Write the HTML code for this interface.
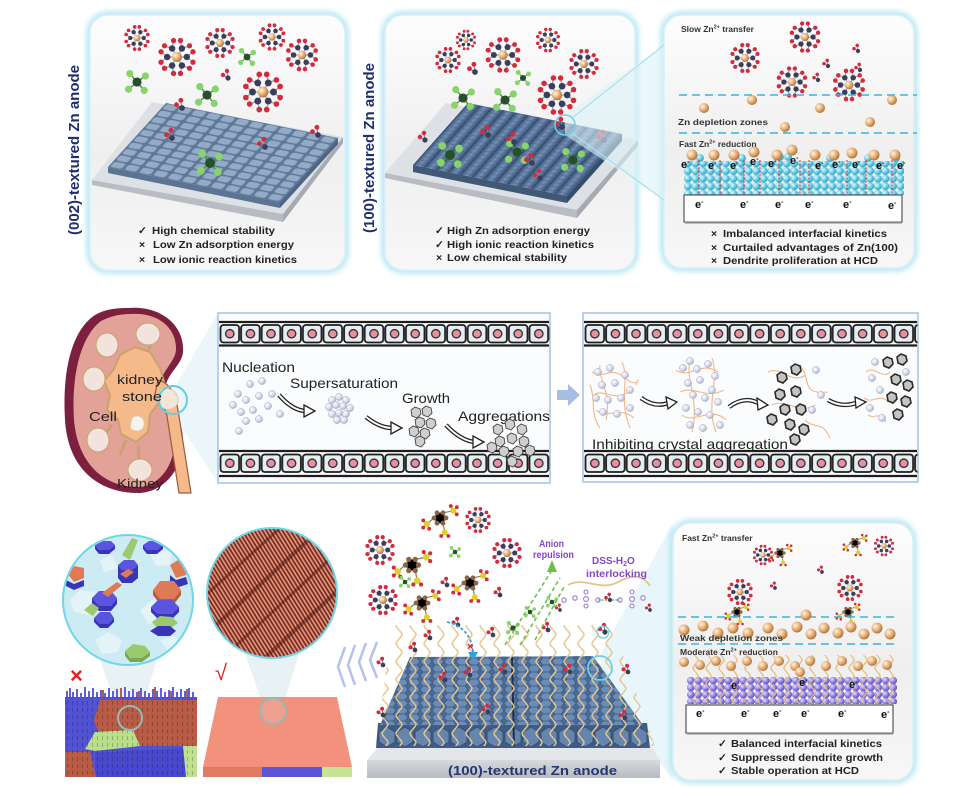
<!DOCTYPE html>
<html><head><meta charset="utf-8">
<style>
html,body{margin:0;padding:0;background:#fff;}
svg{display:block;}
text{font-family:"Liberation Sans",Arial,sans-serif;}
.b{font-weight:bold;}
</style></head>
<body>
<svg width="974" height="787" viewBox="0 0 974 787" xmlns="http://www.w3.org/2000/svg">
<defs>
 <radialGradient id="zn" cx="35%" cy="35%" r="65%"><stop offset="0" stop-color="#fff4e4"/><stop offset=".55" stop-color="#e9b37a"/><stop offset="1" stop-color="#b17940"/></radialGradient>
 <radialGradient id="cy" cx="35%" cy="35%" r="70%"><stop offset="0" stop-color="#e6fbff"/><stop offset=".5" stop-color="#6fd1ea"/><stop offset="1" stop-color="#2b9ec0"/></radialGradient>
 <radialGradient id="pu" cx="35%" cy="35%" r="70%"><stop offset="0" stop-color="#e2dcff"/><stop offset=".5" stop-color="#9a8ae6"/><stop offset="1" stop-color="#5b49b8"/></radialGradient>
 <radialGradient id="lav" cx="35%" cy="35%" r="70%"><stop offset="0" stop-color="#ffffff"/><stop offset=".6" stop-color="#d6d8ea"/><stop offset="1" stop-color="#a6a9c8"/></radialGradient>
 <linearGradient id="pg" x1="0" y1="0" x2="0" y2="1"><stop offset="0" stop-color="#fdfdfd"/><stop offset=".55" stop-color="#efefef"/><stop offset="1" stop-color="#f7f7f7"/></linearGradient>
 <linearGradient id="base" x1="0" y1="0" x2="0" y2="1"><stop offset="0" stop-color="#d6d9dd"/><stop offset="1" stop-color="#b7bbc1"/></linearGradient>
 <linearGradient id="rod" x1="0" y1="0" x2="1" y2="0"><stop offset="0" stop-color="#3b5478"/><stop offset=".5" stop-color="#7391b6"/><stop offset="1" stop-color="#3b5478"/></linearGradient>
 <filter id="bl" x="-20%" y="-20%" width="140%" height="140%"><feGaussianBlur stdDeviation="3"/></filter>

 <g id="zh">
  <path d="M0 0L7 0M0 0L3.5 6.06M0 0L-3.5 6.06M0 0L-7 0M0 0L-3.5 -6.06M0 0L3.5 -6.06M7 0L11.41 3.71M7 0L11.41 -3.71M3.5 6.06L2.49 11.74M3.5 6.06L8.92 8.03M-3.5 6.06L-8.92 8.03M-3.5 6.06L-2.49 11.74M-7 0L-11.41 -3.71M-7 0L-11.41 3.71M-3.5 -6.06L-2.49 -11.74M-3.5 -6.06L-8.92 -8.03M3.5 -6.06L8.92 -8.03M3.5 -6.06L2.49 -11.74" stroke="#a0a0b0" stroke-width=".9"/>
  <g fill="#d42a3c">
   <circle cx="11.41" cy="3.71" r="1.9"/><circle cx="11.41" cy="-3.71" r="1.9"/><circle cx="2.49" cy="11.74" r="1.9"/><circle cx="8.92" cy="8.03" r="1.9"/><circle cx="-8.92" cy="8.03" r="1.9"/><circle cx="-2.49" cy="11.74" r="1.9"/><circle cx="-11.41" cy="-3.71" r="1.9"/><circle cx="-11.41" cy="3.71" r="1.9"/><circle cx="-2.49" cy="-11.74" r="1.9"/><circle cx="-8.92" cy="-8.03" r="1.9"/><circle cx="8.92" cy="-8.03" r="1.9"/><circle cx="2.49" cy="-11.74" r="1.9"/>
  </g>
  <g fill="#3b3d5c">
   <circle cx="7" cy="0" r="2.3"/><circle cx="3.5" cy="6.06" r="2.3"/><circle cx="-3.5" cy="6.06" r="2.3"/><circle cx="-7" cy="0" r="2.3"/><circle cx="-3.5" cy="-6.06" r="2.3"/><circle cx="3.5" cy="-6.06" r="2.3"/>
  </g>
  <circle cx="0" cy="0" r="3.6" fill="url(#zn)"/>
 </g>
 <g id="gm">
  <path d="M0 0L-6 -7M0 0L7 -5M0 0L-7 6M0 0L6 7" stroke="#5a8a4a" stroke-width="1.2"/>
  <g fill="#86d46a"><circle cx="-6" cy="-7" r="3"/><circle cx="7" cy="-5" r="3"/><circle cx="-7" cy="6" r="3"/><circle cx="6" cy="7" r="3"/></g>
  <circle cx="0" cy="0" r="3.8" fill="#24502a"/>
 </g>
 <g id="dm">
  <path d="M0 0L-5 -3M0 0L-1 -7" stroke="#888" stroke-width="1"/>
  <circle cx="-5" cy="-3" r="2.2" fill="#d42a3c"/><circle cx="-1" cy="-7" r="2.2" fill="#d42a3c"/>
  <circle cx="0" cy="0" r="2.6" fill="#3b3d5c"/>
 </g>
 <g id="sg">
  <path d="M5 0L2.5 4.33L-2.5 4.33L-5 0L-2.5 -4.33L2.5 -4.33ZM2.5 -4.33L11 -6M-5 0L-11 5M2.5 4.33L4 12M11 -6L14 -9M11 -6L14 -3M11 -6L9 -10M-11 5L-14 2M-11 5L-14 8M-11 5L-9 9M4 12L1 15M4 12L7 15" stroke="#8a7a6a" stroke-width="1"/>
  <g fill="#8a6548"><circle cx="5" cy="0" r="2"/><circle cx="2.5" cy="4.33" r="2"/><circle cx="-2.5" cy="4.33" r="2"/><circle cx="-5" cy="0" r="2"/><circle cx="-2.5" cy="-4.33" r="2"/><circle cx="2.5" cy="-4.33" r="2"/></g>
  <g fill="#d42a3c"><circle cx="14" cy="-9" r="1.6"/><circle cx="14" cy="-3" r="1.6"/><circle cx="9" cy="-10" r="1.6"/><circle cx="-14" cy="2" r="1.6"/><circle cx="-14" cy="8" r="1.6"/><circle cx="-9" cy="9" r="1.6"/><circle cx="1" cy="15" r="1.6"/><circle cx="7" cy="15" r="1.6"/></g>
  <g fill="#e2d020"><circle cx="11" cy="-6" r="2.5"/><circle cx="-11" cy="5" r="2.5"/><circle cx="4" cy="12" r="2.5"/></g>
 </g>
 <g id="cr"><polygon points="-5,-3 -1,-6 4,-4 5,1 1,5 -4,3" fill="#cfcfcf" stroke="#444" stroke-width=".9"/></g>
 <g id="hc"><polygon points="-5,-3 -1,-6 4,-4 5,1 1,5 -4,3" fill="#c4c4c4" stroke="#2a2a2a" stroke-width="1.6"/></g>
 <g id="ls"><circle r="3.6" fill="url(#lav)" stroke="#a8abc6" stroke-width=".5"/></g>

 <pattern id="t1" patternUnits="userSpaceOnUse" width="10" height="10" patternTransform="matrix(1.4333 .2917 .58 -.64 108 167)">
  <rect width="10" height="10" fill="#5d7796"/>
  <rect x=".9" y=".9" width="8.2" height="8.2" rx="2" fill="#93abc6" stroke="#6b85a3" stroke-width=".5"/>
 </pattern>
 <pattern id="t2" patternUnits="userSpaceOnUse" width="10" height="6" patternTransform="matrix(1.185 .238 .55 -.62 413 165)">
  <rect width="10" height="6" fill="url(#rod)"/>
  <rect x="0" y="0" width=".8" height="6" fill="#2f4565"/>
  <line x1="0" y1="3" x2="10" y2="3" stroke="#4a6488" stroke-width=".7"/>
 </pattern>
 <pattern id="cell" patternUnits="userSpaceOnUse" width="20.6" height="20">
  <rect x="1" y="1" width="18.6" height="17.5" rx="3" fill="#e7eef3" stroke="#1d1d1d" stroke-width="1.8"/>
  <circle cx="10.3" cy="9.75" r="4.2" fill="#ea8f9c" stroke="#2a2a2a" stroke-width="1.3"/>
 </pattern>
 <pattern id="cyp" patternUnits="userSpaceOnUse" width="7.6" height="7.6">
  <circle cx="3.8" cy="3.8" r="3.9" fill="url(#cy)"/>
 </pattern>
 <pattern id="pup" patternUnits="userSpaceOnUse" width="7.5" height="7">
  <circle cx="3.75" cy="3.5" r="3.8" fill="url(#pu)"/>
 </pattern>
 <pattern id="wv" patternUnits="userSpaceOnUse" width="13" height="16">
  <path d="M6.5 0C10 4 10 4 6.5 8C3 12 3 12 6.5 16" stroke="#e6c184" stroke-width="1.3" fill="none"/>
 </pattern>
 <pattern id="wv2" patternUnits="userSpaceOnUse" width="14" height="18">
  <path d="M7 0C11 4.5 11 4.5 7 9C3 13.5 3 13.5 7 18" stroke="#e7c58c" stroke-width="1.5" fill="none"/>
 </pattern>
 <pattern id="hexp" patternUnits="userSpaceOnUse" width="12" height="7">
  <rect width="12" height="7" fill="#4b6b94"/>
  <path d="M0 3.5L3 0L9 0L12 3.5L9 7L3 7Z" fill="#6b8cb4" stroke="#3a5780" stroke-width=".7"/>
 </pattern>
 <pattern id="hexe" patternUnits="userSpaceOnUse" width="18" height="22">
  <rect width="18" height="22" fill="#3f5c82"/>
  <path d="M9 1L17 6L17 16L9 21L1 16L1 6Z" fill="#6685ac" stroke="#34507a" stroke-width="1"/>
 </pattern>
 <pattern id="str" patternUnits="userSpaceOnUse" width="3.4" height="10" patternTransform="rotate(-32)">
  <rect width="3.4" height="10" fill="#7a2b20"/>
  <rect width="1.6" height="10" fill="#e49a80"/>
 </pattern>
 <pattern id="spk" patternUnits="userSpaceOnUse" width="5" height="7">
  <line x1="2.5" y1="1" x2="2.5" y2="5" stroke="#000" stroke-opacity=".22" stroke-width="1"/>
 </pattern>
 <clipPath id="cl1"><circle cx="128" cy="600" r="64"/></clipPath>
 <clipPath id="cl2"><circle cx="272" cy="593" r="64"/></clipPath>
</defs>

<rect width="974" height="787" fill="#fff"/>

<!-- ================= TOP ROW ================= -->
<text class="b" transform="translate(79,150) rotate(-90)" text-anchor="middle" font-size="15" fill="#1f2f6e" textLength="170" lengthAdjust="spacingAndGlyphs">(002)-textured Zn anode</text>
<text class="b" transform="translate(374,148) rotate(-90)" text-anchor="middle" font-size="15" fill="#1f2f6e" textLength="170" lengthAdjust="spacingAndGlyphs">(100)-textured Zn anode</text>

<rect x="90" y="15" width="255" height="255" rx="18" fill="none" stroke="#b3e5f3" stroke-width="7" filter="url(#bl)"/>
<rect x="385" y="15" width="250" height="255" rx="18" fill="none" stroke="#b3e5f3" stroke-width="7" filter="url(#bl)"/>
<rect x="664" y="15" width="250" height="253" rx="18" fill="none" stroke="#b3e5f3" stroke-width="7" filter="url(#bl)"/>
<rect x="90" y="15" width="255" height="255" rx="18" fill="url(#pg)" stroke="#d6f1f8" stroke-width="1.5"/>
<rect x="385" y="15" width="250" height="255" rx="18" fill="url(#pg)" stroke="#d6f1f8" stroke-width="1.5"/>
<rect x="664" y="15" width="250" height="253" rx="18" fill="url(#pg)" stroke="#d6f1f8" stroke-width="1.5"/>

<!-- panel 1 slab -->
<polygon points="92,180 283,214 343,137 152,102" fill="#dde0e4"/>
<polygon points="92,180 283,214 283,222 92,185" fill="#b9bdc3"/>
<polygon points="283,214 343,137 343,143 283,222" fill="#a6abb2"/>
<polygon points="108,167 280,202 280,208 108,173" fill="#5b7493"/>
<polygon points="280,202 338,138 338,144 280,208" fill="#4d6687"/>
<polygon points="108,167 280,202 338,138 166,103" fill="url(#t1)"/>
<use href="#zh" transform="translate(137,38) scale(.95)"/>
<use href="#zh" transform="translate(177,57) scale(1.4)"/>
<use href="#zh" transform="translate(220,43) scale(1.1)"/>
<use href="#zh" transform="translate(272,37) scale(1)"/>
<use href="#zh" transform="translate(302,55) scale(1.2)"/>
<use href="#zh" transform="translate(263,92) scale(1.5)"/>
<use href="#gm" transform="translate(137,82) scale(1.2)"/>
<use href="#gm" transform="translate(207,95) scale(1.2)"/>
<use href="#gm" transform="translate(247,57) scale(.9)"/>
<use href="#gm" transform="translate(210,163) scale(1.3)"/>
<use href="#dm" transform="translate(182,108) scale(1.1)"/>
<use href="#dm" transform="translate(172,138) scale(1.1)"/>
<use href="#dm" transform="translate(265,147) scale(1.1)"/>
<use href="#dm" transform="translate(318,135) scale(1.1)"/>
<use href="#dm" transform="translate(228,78) scale(1)"/>
<text class="b" font-size="10.5" fill="#222"><tspan x="138" y="234">✓</tspan><tspan x="139" y="248">×</tspan><tspan x="139" y="263">×</tspan></text>
<text class="b" font-size="10.5" fill="#222" x="152" y="234" textLength="123" lengthAdjust="spacingAndGlyphs">High chemical stability</text>
<text class="b" font-size="10.5" fill="#222" x="153" y="248" textLength="141" lengthAdjust="spacingAndGlyphs">Low Zn adsorption energy</text>
<text class="b" font-size="10.5" fill="#222" x="153" y="263" textLength="144" lengthAdjust="spacingAndGlyphs">Low ionic reaction kinetics</text>

<!-- panel 2 slab -->
<polygon points="385,173 577,210 638,140 446,103" fill="#dde0e4"/>
<polygon points="385,173 577,210 577,218 385,178" fill="#b9bdc3"/>
<polygon points="577,210 638,140 638,146 577,218" fill="#a6abb2"/>
<polygon points="413,165 567,196 567,203 413,172" fill="#3f5878"/>
<polygon points="567,196 622,134 622,141 567,203" fill="#354d6c"/>
<polygon points="413,165 567,196 622,134 468,103" fill="url(#t2)"/>
<use href="#zh" transform="translate(466,40) scale(.75)"/>
<use href="#zh" transform="translate(448,60) scale(.95)"/>
<use href="#zh" transform="translate(503,55) scale(1.3)"/>
<use href="#zh" transform="translate(548,40) scale(.9)"/>
<use href="#zh" transform="translate(584,64) scale(1.1)"/>
<use href="#zh" transform="translate(557,95) scale(1.45)"/>
<use href="#gm" transform="translate(463,98) scale(1.2)"/>
<use href="#gm" transform="translate(505,100) scale(1.2)"/>
<use href="#gm" transform="translate(523,78) scale(.8)"/>
<use href="#gm" transform="translate(450,155) scale(1.3)"/>
<use href="#gm" transform="translate(517,152) scale(1.2)"/>
<use href="#gm" transform="translate(573,160) scale(1.2)"/>
<use href="#dm" transform="translate(475,72) scale(1.1)"/>
<use href="#dm" transform="translate(488,135) scale(1.1)"/>
<use href="#dm" transform="translate(514,142) scale(1.1)"/>
<use href="#dm" transform="translate(532,163) scale(1.1)"/>
<use href="#dm" transform="translate(540,178) scale(1)"/>
<use href="#dm" transform="translate(604,140) scale(1.1)"/>
<use href="#dm" transform="translate(562,127) scale(1.1)"/>
<use href="#dm" transform="translate(425,140) scale(1)"/>
<polygon points="565,115 664,45 664,200 565,135" fill="#dcf2f9" opacity=".6"/>
<path d="M572,118 L664,45 M572,133 L664,200" stroke="#a9e1ef" stroke-width="1.2" fill="none"/>
<circle cx="565" cy="125" r="10" fill="none" stroke="#6fd0e6" stroke-width="1.5"/>
<text class="b" font-size="10.5" fill="#222"><tspan x="435" y="234">✓</tspan><tspan x="435" y="248">✓</tspan><tspan x="436" y="261">×</tspan></text>
<text class="b" font-size="10.5" fill="#222" x="447" y="234" textLength="143" lengthAdjust="spacingAndGlyphs">High Zn adsorption energy</text>
<text class="b" font-size="10.5" fill="#222" x="447" y="248" textLength="147" lengthAdjust="spacingAndGlyphs">High ionic reaction kinetics</text>
<text class="b" font-size="10.5" fill="#222" x="447" y="261" textLength="120" lengthAdjust="spacingAndGlyphs">Low chemical stability</text>

<!-- panel 3 -->
<text class="b" font-size="8.5" fill="#333" x="681" y="32">Slow Zn<tspan font-size="5.5" dy="-3.5">2+</tspan><tspan dy="3.5"> transfer</tspan></text>
<use href="#zh" transform="translate(745,58) scale(1.1)"/>
<use href="#zh" transform="translate(805,37) scale(1.15)"/>
<use href="#zh" transform="translate(792,82) scale(1.15)"/>
<use href="#zh" transform="translate(849,85) scale(1.2)"/>
<use href="#dm" transform="translate(828,66) scale(.8)"/>
<use href="#dm" transform="translate(858,51) scale(.8)"/>
<use href="#dm" transform="translate(860,70) scale(.8)"/>
<use href="#dm" transform="translate(818,80) scale(.8)"/>
<g fill="url(#zn)">
 <circle cx="752" cy="100" r="5"/><circle cx="704" cy="108" r="5"/><circle cx="820" cy="108" r="5"/><circle cx="785" cy="127" r="5"/><circle cx="870" cy="122" r="5"/><circle cx="892" cy="100" r="5"/>
</g>
<line x1="679" y1="95" x2="917" y2="95" stroke="#39b4e0" stroke-width="1.6" stroke-dasharray="8 5"/>
<line x1="679" y1="133" x2="917" y2="133" stroke="#39b4e0" stroke-width="1.6" stroke-dasharray="8 5"/>
<text class="b" font-size="8.5" fill="#333" x="678" y="125" textLength="90" lengthAdjust="spacingAndGlyphs">Zn depletion  zones</text>
<text class="b" font-size="8.5" fill="#333" x="679" y="147">Fast Zn<tspan font-size="5.5" dy="-3.5">2+</tspan><tspan dy="3.5"> reduction</tspan></text>
<rect x="684" y="161" width="220" height="34" fill="url(#cyp)"/>
<g fill="url(#cy)">
 <circle cx="700" cy="158" r="3.9"/><circle cx="742" cy="158" r="3.9"/><circle cx="780" cy="157" r="3.9"/><circle cx="788" cy="157" r="3.9"/><circle cx="830" cy="158" r="3.9"/><circle cx="868" cy="158" r="3.9"/><circle cx="896" cy="158" r="3.9"/>
</g>
<g fill="url(#zn)">
 <circle cx="692" cy="155" r="5.5"/><circle cx="714" cy="155" r="5.5"/><circle cx="734" cy="155" r="5.5"/><circle cx="754" cy="152" r="5.5"/><circle cx="777" cy="155" r="5.5"/><circle cx="792" cy="150" r="5.5"/><circle cx="815" cy="155" r="5.5"/><circle cx="834" cy="155" r="5.5"/><circle cx="852" cy="153" r="5.5"/><circle cx="874" cy="155" r="5.5"/><circle cx="895" cy="155" r="5.5"/>
</g>
<g stroke="#e02a2a" stroke-width="1" stroke-dasharray="2 1.5">
 <line x1="699" y1="160" x2="699" y2="197"/><line x1="720" y1="160" x2="720" y2="195"/><line x1="744" y1="160" x2="744" y2="197"/><line x1="760" y1="160" x2="760" y2="195"/><line x1="779" y1="160" x2="779" y2="197"/><line x1="800" y1="160" x2="800" y2="195"/><line x1="809" y1="160" x2="809" y2="197"/><line x1="847" y1="160" x2="847" y2="197"/><line x1="866" y1="160" x2="866" y2="195"/><line x1="892" y1="160" x2="892" y2="197"/>
</g>
<rect x="684" y="195" width="218" height="27" fill="#fff" stroke="#555" stroke-width="1.2"/>
<line x1="685" y1="222.5" x2="902" y2="222.5" stroke="#888" stroke-width="2"/>
<g font-size="11" fill="#111" font-weight="bold">
 <text x="681" y="168">e<tspan font-size="7" dy="-4">-</tspan></text>
 <text x="708" y="169">e<tspan font-size="7" dy="-4">-</tspan></text>
 <text x="730" y="169">e<tspan font-size="7" dy="-4">-</tspan></text>
 <text x="750" y="165">e<tspan font-size="7" dy="-4">-</tspan></text>
 <text x="768" y="167">e<tspan font-size="7" dy="-4">-</tspan></text>
 <text x="790" y="164">e<tspan font-size="7" dy="-4">-</tspan></text>
 <text x="815" y="169">e<tspan font-size="7" dy="-4">-</tspan></text>
 <text x="832" y="168">e<tspan font-size="7" dy="-4">-</tspan></text>
 <text x="852" y="168">e<tspan font-size="7" dy="-4">-</tspan></text>
 <text x="876" y="169">e<tspan font-size="7" dy="-4">-</tspan></text>
 <text x="897" y="169">e<tspan font-size="7" dy="-4">-</tspan></text>
 <text x="695" y="208">e<tspan font-size="7" dy="-4">-</tspan></text>
 <text x="740" y="208">e<tspan font-size="7" dy="-4">-</tspan></text>
 <text x="775" y="208">e<tspan font-size="7" dy="-4">-</tspan></text>
 <text x="805" y="208">e<tspan font-size="7" dy="-4">-</tspan></text>
 <text x="843" y="208">e<tspan font-size="7" dy="-4">-</tspan></text>
 <text x="888" y="209">e<tspan font-size="7" dy="-4">-</tspan></text>
</g>
<text class="b" font-size="10.5" fill="#222"><tspan x="711" y="237">×</tspan><tspan x="711" y="251">×</tspan><tspan x="711" y="264">×</tspan></text>
<text class="b" font-size="10.5" fill="#222" x="723" y="237" textLength="164" lengthAdjust="spacingAndGlyphs">Imbalanced interfacial kinetics</text>
<text class="b" font-size="10.5" fill="#222" x="723" y="251" textLength="175" lengthAdjust="spacingAndGlyphs">Curtailed  advantages of Zn(100)</text>
<text class="b" font-size="10.5" fill="#222" x="723" y="264" textLength="155" lengthAdjust="spacingAndGlyphs">Dendrite proliferation at HCD</text>

<!-- ================= MIDDLE ROW ================= -->
<polygon points="173,390 218,313 218,483 173,414" fill="#d9eef5" opacity=".55"/>
<path d="M128,308 C160,305 185,325 183,352 C182,365 168,372 165,388 C163,405 178,415 182,430 C188,465 165,493 138,493 C100,493 68,470 65,420 C62,370 72,330 95,315 C105,309 117,308 128,308 Z" fill="#7d1f3f"/>
<path d="M131,314 C158,312 177,328 176,350 C175,362 161,372 158,388 C156,405 170,416 174,432 C178,462 160,487 138,487 C106,487 78,466 74,420 C71,375 81,336 101,321 C111,316 121,314 131,314 Z" fill="#e2a297"/>
<path d="M118,352 L108,345 M150,350 L148,337 M110,380 L97,378 M112,425 L100,440 M138,445 L140,468 M126,440 L120,455" stroke="#c9a36b" stroke-width="3"/>
<path d="M120,355 L135,347 L150,352 L160,368 L165,385 L158,404 L150,414 L148,432 L136,442 L121,434 L118,420 L107,410 L110,395 L104,381 L114,369 Z" fill="#f5b98a" stroke="#c9a36b" stroke-width="2"/>
<path d="M158,380 C170,383 175,393 178,410 L191,493 L179,493 L167,416 C165,406 160,401 154,399 Z" fill="#f5b98a" stroke="#9a5a40" stroke-width="1.2"/>
<g fill="#f3e3df" stroke="#c9a36b" stroke-width="1">
 <ellipse cx="107" cy="345" rx="11" ry="12"/>
 <ellipse cx="148" cy="334" rx="12" ry="11"/>
 <ellipse cx="94" cy="379" rx="11" ry="12"/>
 <ellipse cx="98" cy="440" rx="11" ry="12"/>
 <ellipse cx="140" cy="470" rx="12" ry="11"/>
</g>
<path d="M132,418 C138,413 146,418 144,426 C142,433 132,432 130,427 Z" fill="#f8f2ec" stroke="#d8c8b0" stroke-width=".8"/>
<path d="M160,390 C168,385 180,392 178,402 C176,410 164,412 160,405 Z" fill="#f3e6d8" stroke="#d8c8b0" stroke-width=".8"/>
<circle cx="173" cy="400" r="14" fill="none" stroke="#5fd0e0" stroke-width="2"/>
<text font-size="12.5" fill="#222" x="117" y="384" textLength="46" lengthAdjust="spacingAndGlyphs">kidney</text>
<text font-size="12.5" fill="#222" x="122" y="401" textLength="40" lengthAdjust="spacingAndGlyphs">stone</text>
<text font-size="13" fill="#222" x="89" y="421" textLength="28" lengthAdjust="spacingAndGlyphs">Cell</text>
<text font-size="13" fill="#222" x="117" y="488" textLength="46" lengthAdjust="spacingAndGlyphs">Kidney</text>

<!-- box 1 -->
<rect x="218" y="313" width="332" height="170" fill="#fbfcfd" stroke="#a9c6e6" stroke-width="1.6"/>
<line x1="219" y1="322" x2="549" y2="322" stroke="#1d1d1d" stroke-width="2.2"/>
<line x1="219" y1="345.5" x2="549" y2="345.5" stroke="#1d1d1d" stroke-width="2.2"/>
<rect x="0" y="0" width="330" height="20" fill="url(#cell)" transform="translate(219.5,324)"/>
<line x1="219" y1="451" x2="549" y2="451" stroke="#1d1d1d" stroke-width="2.2"/>
<line x1="219" y1="476" x2="549" y2="476" stroke="#1d1d1d" stroke-width="2.2"/>
<rect x="0" y="0" width="330" height="20" fill="url(#cell)" transform="translate(219.5,453.5)"/>
<text font-size="14" fill="#222" x="222" y="372" textLength="73" lengthAdjust="spacingAndGlyphs">Nucleation</text>
<text font-size="14" fill="#222" x="290" y="388" textLength="108" lengthAdjust="spacingAndGlyphs">Supersaturation</text>
<text font-size="14" fill="#222" x="402" y="403" textLength="48" lengthAdjust="spacingAndGlyphs">Growth</text>
<text font-size="14" fill="#222" x="458" y="421" textLength="92" lengthAdjust="spacingAndGlyphs">Aggregations</text>
<g>
 <use href="#ls" x="238" y="394"/><use href="#ls" x="250" y="384"/><use href="#ls" x="262" y="381"/><use href="#ls" x="233" y="405"/><use href="#ls" x="246" y="400"/><use href="#ls" x="259" y="396"/><use href="#ls" x="272" y="394"/><use href="#ls" x="241" y="412"/><use href="#ls" x="253" y="410"/><use href="#ls" x="268" y="406"/><use href="#ls" x="280" y="414"/><use href="#ls" x="246" y="421"/><use href="#ls" x="259" y="419"/><use href="#ls" x="239" y="431"/>
 <use href="#ls" x="332" y="400"/><use href="#ls" x="339" y="397"/><use href="#ls" x="346" y="400"/><use href="#ls" x="329" y="407"/><use href="#ls" x="336" y="405"/><use href="#ls" x="343" y="406"/><use href="#ls" x="350" y="408"/><use href="#ls" x="332" y="414"/><use href="#ls" x="339" y="413"/><use href="#ls" x="346" y="414"/><use href="#ls" x="337" y="420"/><use href="#ls" x="344" y="420"/>
</g>
<g>
 <use href="#cr" x="416" y="413"/><use href="#cr" x="427" y="412"/><use href="#cr" x="420" y="423"/><use href="#cr" x="431" y="424"/><use href="#cr" x="414" y="432"/><use href="#cr" x="425" y="434"/><use href="#cr" x="420" y="442"/>
 <use href="#cr" x="498" y="430"/><use href="#cr" x="510" y="425"/><use href="#cr" x="522" y="430"/><use href="#cr" x="500" y="442"/><use href="#cr" x="512" y="439"/><use href="#cr" x="524" y="442"/><use href="#cr" x="504" y="452"/><use href="#cr" x="518" y="452"/><use href="#cr" x="492" y="448"/><use href="#cr" x="530" y="451"/><use href="#cr" x="512" y="462"/>
</g>
<g>
 <path d="M279,395 Q292,410 305,411" fill="none" stroke="#222" stroke-width="4.5"/><path d="M279,395 Q292,410 305,411" fill="none" stroke="#fff" stroke-width="2"/><polygon points="304,405 315,411 304,417" fill="#fff" stroke="#222" stroke-width="1.3"/>
 <path d="M366,417 Q380,428 392,428" fill="none" stroke="#222" stroke-width="4.5"/><path d="M366,417 Q380,428 392,428" fill="none" stroke="#fff" stroke-width="2"/><polygon points="391,422 402,428 391,434" fill="#fff" stroke="#222" stroke-width="1.3"/>
 <path d="M446,425 Q460,440 474,442" fill="none" stroke="#222" stroke-width="4.5"/><path d="M446,425 Q460,440 474,442" fill="none" stroke="#fff" stroke-width="2"/><polygon points="473,436 484,442 473,448" fill="#fff" stroke="#222" stroke-width="1.3"/>
</g>

<polygon points="557,390 568,390 568,384 580,395 568,406 568,400 557,400" fill="#a7bde3"/>

<!-- box 2 -->
<rect x="583" y="313" width="335" height="169" fill="#fbfcfd" stroke="#a9c6e6" stroke-width="1.6"/>
<line x1="584" y1="322" x2="917" y2="322" stroke="#1d1d1d" stroke-width="2.2"/>
<line x1="584" y1="345.5" x2="917" y2="345.5" stroke="#1d1d1d" stroke-width="2.2"/>
<rect x="0" y="0" width="333" height="20" fill="url(#cell)" transform="translate(584.5,324)"/>
<line x1="584" y1="451" x2="917" y2="451" stroke="#1d1d1d" stroke-width="2.2"/>
<line x1="584" y1="476" x2="917" y2="476" stroke="#1d1d1d" stroke-width="2.2"/>
<rect x="0" y="0" width="333" height="20" fill="url(#cell)" transform="translate(584.5,453.5)"/>
<g fill="none" stroke="#f2b786" stroke-width="1.1">
 <path d="M592,372 C605,380 610,365 625,378 S640,372 636,385"/>
 <path d="M594,395 C602,388 615,402 628,392"/>
 <path d="M596,410 C608,420 618,405 634,418"/>
 <path d="M600,365 C598,380 612,392 606,420"/>
 <path d="M622,362 C630,380 618,398 630,428"/>
 <path d="M590,385 C596,400 590,415 600,428"/>
 <path d="M676,370 C690,380 700,360 718,372"/>
 <path d="M680,392 C695,385 705,400 724,390"/>
 <path d="M682,415 C695,425 710,405 726,420"/>
 <path d="M690,360 C685,380 700,400 692,432"/>
 <path d="M712,358 C720,380 705,405 716,432"/>
 <path d="M768,372 C780,365 790,385 806,375"/>
 <path d="M772,405 C785,398 800,415 815,405"/>
 <path d="M800,365 C812,380 800,395 828,392"/>
 <path d="M805,420 C815,430 822,420 830,438"/>
 <path d="M866,372 C875,365 882,380 890,372"/>
 <path d="M864,398 C872,405 880,392 888,402"/>
 <path d="M868,415 C875,420 880,410 886,422"/>
</g>
<g>
 <use href="#ls" x="598" y="372"/><use href="#ls" x="610" y="368"/><use href="#ls" x="625" y="375"/><use href="#ls" x="602" y="385"/><use href="#ls" x="615" y="383"/><use href="#ls" x="630" y="390"/><use href="#ls" x="596" y="398"/><use href="#ls" x="608" y="400"/><use href="#ls" x="621" y="398"/><use href="#ls" x="603" y="412"/><use href="#ls" x="617" y="414"/><use href="#ls" x="630" y="408"/>
 <use href="#ls" x="683" y="368"/><use href="#ls" x="690" y="361"/><use href="#ls" x="697" y="369"/><use href="#ls" x="708" y="364"/><use href="#ls" x="715" y="376"/><use href="#ls" x="688" y="383"/><use href="#ls" x="700" y="380"/><use href="#ls" x="712" y="390"/><use href="#ls" x="693" y="395"/><use href="#ls" x="705" y="398"/><use href="#ls" x="718" y="402"/><use href="#ls" x="686" y="408"/><use href="#ls" x="698" y="412"/><use href="#ls" x="710" y="415"/><use href="#ls" x="720" y="425"/><use href="#ls" x="690" y="425"/><use href="#ls" x="703" y="428"/>
 <use href="#ls" x="816" y="370"/><use href="#ls" x="821" y="395"/><use href="#ls" x="812" y="410"/>
 <use href="#ls" x="875" y="362"/><use href="#ls" x="872" y="378"/><use href="#ls" x="880" y="390"/><use href="#ls" x="870" y="408"/><use href="#ls" x="882" y="418"/><use href="#ls" x="906" y="372"/>
</g>
<g>
 <use href="#hc" x="782" y="378"/><use href="#hc" x="796" y="370"/><use href="#hc" x="780" y="395"/><use href="#hc" x="796" y="392"/><use href="#hc" x="785" y="410"/><use href="#hc" x="801" y="410"/><use href="#hc" x="772" y="420"/><use href="#hc" x="790" y="425"/><use href="#hc" x="804" y="430"/><use href="#hc" x="795" y="440"/>
 <use href="#hc" x="888" y="363"/><use href="#hc" x="902" y="360"/><use href="#hc" x="896" y="380"/><use href="#hc" x="908" y="386"/><use href="#hc" x="892" y="398"/><use href="#hc" x="906" y="402"/><use href="#hc" x="898" y="415"/>
</g>
<g>
 <path d="M641,398 Q655,408 668,403" fill="none" stroke="#222" stroke-width="4.5"/><path d="M641,398 Q655,408 668,403" fill="none" stroke="#fff" stroke-width="2"/><polygon points="666,397 677,402 668,409" fill="#fff" stroke="#222" stroke-width="1.3"/>
 <path d="M729,407 Q745,395 760,404" fill="none" stroke="#222" stroke-width="4.5"/><path d="M729,407 Q745,395 760,404" fill="none" stroke="#fff" stroke-width="2"/><polygon points="757,398 768,405 758,410" fill="#fff" stroke="#222" stroke-width="1.3"/>
 <path d="M828,400 Q842,408 856,403" fill="none" stroke="#222" stroke-width="4.5"/><path d="M828,400 Q842,408 856,403" fill="none" stroke="#fff" stroke-width="2"/><polygon points="855,397 866,402 856,408" fill="#fff" stroke="#222" stroke-width="1.3"/>
</g>
<text font-size="14" fill="#222" x="592" y="449" textLength="196" lengthAdjust="spacingAndGlyphs">Inhibiting crystal aggregation</text>

<!-- ================= BOTTOM ROW ================= -->
<polygon points="96,650 160,650 141,712 119,712" fill="#e4eef1" opacity=".85"/>
<polygon points="242,645 302,645 283,705 263,705" fill="#e4eef1" opacity=".85"/>

<circle cx="128" cy="600" r="65" fill="#cdebf2"/>
<g clip-path="url(#cl1)">
 <g fill="#e3f3f7">
  <polygon points="70,600 80,590 95,592 100,605 88,615 74,612"/>
  <polygon points="140,610 152,600 165,606 162,620 148,624"/>
  <polygon points="95,640 108,632 122,640 118,652 102,654"/>
  <polygon points="150,555 160,548 172,552 170,565 156,566"/>
  <polygon points="160,640 175,636 185,648 172,656"/>
  <polygon points="100,560 112,555 118,568 104,572"/>
 </g>
 <polygon points="95,545 101,541 111,541 115,545 109,550 99,550" fill="#5a55e0"/><polygon points="95,545 99,550 109,550 115,545 115,549 109,554 99,554 95,549" fill="#3a35b8"/>
 <polygon points="143,545 149,541 159,541 163,545 157,550 147,550" fill="#5a55e0"/><polygon points="143,545 147,550 157,550 163,545 163,549 157,554 147,554 143,549" fill="#3a35b8"/>
 <polygon points="118,565 124,560 134,560 138,565 132,570 122,570" fill="#5a55e0"/><polygon points="118,565 122,570 132,570 138,565 138,578 132,583 122,583 118,578" fill="#3a35b8"/>
 <polygon points="122,555 132,538 138,540 130,560" fill="#9cc870"/>
 <polygon points="120,574 128,569 134,572 126,578" fill="#e07a55"/>
 <polygon points="66,572 74,566 84,568 84,578 74,582" fill="#e07a55"/><polygon points="66,580 74,584 84,580 84,586 74,590 66,586" fill="#3a35b8"/>
 <polygon points="170,565 178,560 188,565 186,575 176,578" fill="#e07a55"/><polygon points="170,575 176,580 186,577 188,584 176,588 170,583" fill="#3a35b8"/>
 <polygon points="153,590 160,581 174,581 181,590 174,599 160,599" fill="#e07a55"/><polygon points="153,590 160,599 174,599 181,590 181,595 174,604 160,604 153,595" fill="#b85a3a"/>
 <polygon points="151,607 158,600 172,600 179,607 172,614 158,614" fill="#5a55e0"/><polygon points="151,607 158,614 172,614 179,607 179,612 172,619 158,619 151,612" fill="#3a35b8"/>
 <polygon points="152,622 160,616 172,617 178,623 170,629 158,629" fill="#9cc870"/>
 <polygon points="150,631 158,626 170,626 176,631 170,636 158,636" fill="#3a35b8"/>
 <polygon points="92,598 99,591 111,591 117,598 111,606 99,606" fill="#5a55e0"/><polygon points="92,598 99,606 111,606 117,598 117,604 111,611 99,611 92,604" fill="#3a35b8"/>
 <polygon points="102,593 117,582 122,585 108,597" fill="#e07a55"/>
 <polygon points="84,610 92,603 99,608 93,616" fill="#9cc870"/>
 <polygon points="94,618 100,612 110,612 114,618 108,624 100,624" fill="#5a55e0"/><polygon points="94,618 100,624 108,624 114,618 114,622 108,628 100,628 94,622" fill="#3a35b8"/>
 <polygon points="125,651 133,644 145,646 150,652 142,658 130,658" fill="#9cc870"/><polygon points="125,651 130,658 142,658 150,652 150,656 142,662 130,662 125,656" fill="#7aa852"/>
</g>
<circle cx="128" cy="600" r="65" fill="none" stroke="#6fd6e8" stroke-width="2"/>

<circle cx="272" cy="593" r="65" fill="url(#str)"/>
<g clip-path="url(#cl2)" stroke="#4a150e" stroke-opacity=".45" fill="none">
 <path d="M200,640 L330,520" stroke-width="4"/>
 <path d="M215,665 L345,545" stroke-width="3"/>
 <path d="M230,690 L360,570" stroke-width="4"/>
 <path d="M195,605 L300,510" stroke-width="3"/>
</g>
<circle cx="272" cy="593" r="65" fill="none" stroke="#6fd6e8" stroke-width="2"/>

<text x="70" y="683" font-size="22" font-weight="bold" fill="#e01f1f">×</text>
<text x="215" y="680" font-size="22" fill="#e01f1f">√</text>

<rect x="65" y="697" width="132" height="80" fill="#5252d4"/>
<polygon points="100,700 197,700 197,746 135,746 120,736 100,736 94,720" fill="#b85c45"/>
<polygon points="85,749 95,732 133,730 140,746 95,751" fill="#b8e08a"/>
<polygon points="65,752 90,752 96,777 65,777" fill="#b85c45"/>
<polygon points="95,753 183,748 186,777 96,777" fill="#4848cc"/>
<polygon points="183,746 197,746 197,777 186,777" fill="#c0e090"/>
<rect x="65" y="697" width="132" height="80" fill="url(#spk)"/>
<path d="M67 697v-6M70 697v-9M73 697v-5M77 697v-8M81 697v-4M85 697v-10M89 697v-6M93 697v-9M97 697v-5M101 697v-7M105 697v-4M109 697v-9M113 697v-6M117 697v-8M121 697v-5M125 697v-10M129 697v-6M133 697v-8M137 697v-5M141 697v-9M145 697v-6M149 697v-4M153 697v-8M157 697v-6M161 697v-9M165 697v-5M169 697v-7M173 697v-10M177 697v-5M181 697v-8M185 697v-6M189 697v-9M193 697v-5" stroke="#6060dd" stroke-width="2"/>
<path d="M103 697v-7M121 697v-9M139 697v-6M155 697v-10M171 697v-6M187 697v-8" stroke="#b85c45" stroke-width="2"/>
<circle cx="130" cy="718" r="12" fill="none" stroke="#8fbcbc" stroke-width="2"/>

<polygon points="218,697 337,697 352,767 203,767" fill="#f2927c"/>
<rect x="203" y="767" width="59" height="10" fill="#e27a62"/>
<rect x="262" y="767" width="60" height="10" fill="#5a56d8"/>
<rect x="322" y="767" width="30" height="10" fill="#c6e494"/>
<circle cx="273" cy="711" r="13" fill="#eea08e" stroke="#97b8b4" stroke-width="2"/>

<g fill="none" stroke="#b3c2ea" stroke-width="2.5">
 <path d="M345,647 L338,667 L345,687"/><path d="M355,645 L348,665 L355,685"/><path d="M366,643 L359,662 L366,681"/><path d="M377,642 L370,660 L377,678"/>
</g>

<polygon points="600,655 673,523 673,780 605,690" fill="#d9f0f8" opacity=".6"/>
<polygon points="380,745 650,745 660,760 367,760" fill="#e4e6e9"/>
<rect x="367" y="760" width="293" height="18" fill="url(#base)"/>
<polygon points="378,723 647,723 650,748 376,748" fill="url(#hexe)"/>
<polygon points="410,657 593,656 643,725 380,725" fill="url(#hexp)"/>
<path d="M512,657 L514,746" stroke="#1c3150" stroke-width="2"/>
<polygon points="392,625 612,625 655,746 376,746" fill="url(#wv2)"/>
<use href="#zh" transform="translate(380,550) scale(1.1)"/>
<use href="#zh" transform="translate(383,600) scale(1.1)"/>
<use href="#zh" transform="translate(478,520) scale(.95)"/>
<use href="#zh" transform="translate(507,553) scale(1.1)"/>
<use href="#sg" transform="translate(440,518) scale(1.2)"/>
<use href="#sg" transform="translate(412,565) scale(1.3)"/>
<use href="#sg" transform="translate(470,583) scale(1.2)"/>
<use href="#sg" transform="translate(422,603) scale(1.2)"/>
<use href="#gm" transform="translate(455,552) scale(.6)"/>
<use href="#gm" transform="translate(405,582) scale(.6)"/>
<use href="#gm" transform="translate(513,628) scale(.7)"/>
<use href="#gm" transform="translate(530,612) scale(.6)"/>
<use href="#gm" transform="translate(552,602) scale(.6)"/>
<use href="#dm" transform="translate(447,585) scale(.9)"/>
<use href="#dm" transform="translate(500,595) scale(.9)"/>
<use href="#dm" transform="translate(458,625) scale(.9)"/>
<use href="#dm" transform="translate(493,635) scale(.9)"/>
<use href="#dm" transform="translate(430,638) scale(.9)"/>
<use href="#dm" transform="translate(415,650) scale(.9)"/>
<use href="#dm" transform="translate(383,665) scale(.9)"/>
<use href="#dm" transform="translate(445,680) scale(.9)"/>
<use href="#dm" transform="translate(470,675) scale(.9)"/>
<use href="#dm" transform="translate(505,672) scale(.9)"/>
<use href="#dm" transform="translate(488,712) scale(.9)"/>
<use href="#dm" transform="translate(570,672) scale(.9)"/>
<use href="#dm" transform="translate(548,630) scale(.9)"/>
<use href="#dm" transform="translate(605,632) scale(1)"/>
<use href="#dm" transform="translate(628,672) scale(.9)"/>
<use href="#dm" transform="translate(625,718) scale(.9)"/>
<use href="#dm" transform="translate(383,715) scale(.9)"/>
<path d="M447,622 C462,625 472,636 473,652" fill="none" stroke="#2fa0e0" stroke-width="1.8" stroke-dasharray="3 2"/>
<polygon points="468,652 478,652 473,661" fill="#2fa0e0"/>
<text x="467" y="650" font-size="11" font-weight="bold" fill="#e02020">×</text>
<g fill="none" stroke="#6cc04a" stroke-width="1.6" stroke-dasharray="4 3">
 <path d="M505,645 L552,570"/><path d="M520,645 L560,578"/><path d="M535,640 L565,585"/>
</g>
<polygon points="552,560 547,572 557,572" fill="#6cc04a"/>
<path d="M568,585 C585,576 600,592 618,582 S645,578 650,586" fill="none" stroke="#e3c38a" stroke-width="1.8"/>
<g fill="#fff" stroke="#9a7ad0" stroke-width="1.1">
 <circle cx="564" cy="600" r="2.2"/><circle cx="575" cy="598" r="2.2"/><circle cx="586" cy="599" r="2.4"/><circle cx="598" cy="600" r="2.2"/><circle cx="620" cy="600" r="2.2"/><circle cx="632" cy="599" r="2.4"/><circle cx="643" cy="598" r="2.2"/><circle cx="586" cy="592" r="2"/><circle cx="586" cy="606" r="2"/><circle cx="632" cy="592" r="2"/><circle cx="632" cy="606" r="2"/>
</g>
<path d="M598,600 L620,600" stroke="#3cb060" stroke-width="1.2" stroke-dasharray="2 1.5"/>
<use href="#dm" transform="translate(610,600) scale(.8)"/>
<use href="#dm" transform="translate(560,610) scale(.7)"/>
<use href="#dm" transform="translate(650,610) scale(.7)"/>
<circle cx="603" cy="632" r="6" fill="none" stroke="#6fd0e6" stroke-width="1.3"/>
<circle cx="600" cy="668" r="12" fill="none" stroke="#6fd0e6" stroke-width="1.8"/>
<text class="b" font-size="10" fill="#8747c4" x="539" y="547" textLength="25" lengthAdjust="spacingAndGlyphs">Anion</text>
<text class="b" font-size="10" fill="#8747c4" x="533" y="558" textLength="41" lengthAdjust="spacingAndGlyphs">repulsion</text>
<text class="b" font-size="10" fill="#8747c4" x="592" y="564">DSS-H<tspan font-size="7" dy="2">2</tspan><tspan dy="-2">O</tspan></text>
<text class="b" font-size="10" fill="#8747c4" x="586" y="577" textLength="61" lengthAdjust="spacingAndGlyphs">interlocking</text>
<text class="b" font-size="12.5" fill="#24366e" x="448" y="775" textLength="169" lengthAdjust="spacingAndGlyphs">(100)-textured Zn anode</text>

<!-- bottom right panel -->
<rect x="673" y="523" width="240" height="257" rx="18" fill="none" stroke="#b3e5f3" stroke-width="7" filter="url(#bl)"/>
<rect x="673" y="523" width="240" height="257" rx="18" fill="url(#pg)" stroke="#d6f1f8" stroke-width="1.5"/>
<text class="b" font-size="8.5" fill="#333" x="682" y="541">Fast Zn<tspan font-size="5.5" dy="-3.5">2+</tspan><tspan dy="3.5"> transfer</tspan></text>
<use href="#sg" transform="translate(780,553) scale(.8)"/>
<use href="#zh" transform="translate(763,555) scale(.75)"/>
<use href="#sg" transform="translate(855,543) scale(.8)"/>
<use href="#zh" transform="translate(884,546) scale(.75)"/>
<use href="#zh" transform="translate(740,592) scale(.95)"/>
<use href="#sg" transform="translate(737,612) scale(.8)"/>
<use href="#zh" transform="translate(850,588) scale(.95)"/>
<use href="#sg" transform="translate(848,612) scale(.8)"/>
<use href="#dm" transform="translate(775,588) scale(.7)"/>
<use href="#dm" transform="translate(822,572) scale(.7)"/>
<line x1="678" y1="617" x2="895" y2="617" stroke="#39b4e0" stroke-width="1.6" stroke-dasharray="8 5"/>
<line x1="678" y1="644" x2="895" y2="644" stroke="#39b4e0" stroke-width="1.6" stroke-dasharray="8 5"/>
<g fill="url(#zn)">
 <circle cx="684" cy="630" r="5.5"/><circle cx="703" cy="626" r="5.5"/><circle cx="718" cy="633" r="5.5"/><circle cx="733" cy="628" r="5.5"/><circle cx="748" cy="633" r="5.5"/><circle cx="768" cy="628" r="5.5"/><circle cx="782" cy="634" r="5.5"/><circle cx="797" cy="627" r="5.5"/><circle cx="811" cy="634" r="5.5"/><circle cx="824" cy="628" r="5.5"/><circle cx="838" cy="633" r="5.5"/><circle cx="851" cy="627" r="5.5"/><circle cx="864" cy="634" r="5.5"/><circle cx="877" cy="628" r="5.5"/><circle cx="890" cy="634" r="5.5"/><circle cx="806" cy="615" r="5.5"/>
</g>
<rect x="687" y="655" width="210" height="50" fill="url(#wv)"/>
<rect x="0" y="0" width="210" height="27" fill="url(#pup)" transform="translate(687,677)"/>
<rect x="687" y="660" width="210" height="45" fill="url(#wv)" opacity=".9"/>
<g fill="url(#zn)">
 <circle cx="684" cy="662" r="5"/><circle cx="700" cy="665" r="5"/><circle cx="716" cy="661" r="5"/><circle cx="731" cy="666" r="5"/><circle cx="747" cy="661" r="5"/><circle cx="763" cy="666" r="5"/><circle cx="779" cy="661" r="5"/><circle cx="795" cy="666" r="5"/><circle cx="810" cy="661" r="5"/><circle cx="826" cy="666" r="5"/><circle cx="842" cy="661" r="5"/><circle cx="858" cy="666" r="5"/><circle cx="872" cy="661" r="5"/><circle cx="887" cy="665" r="5"/><circle cx="800" cy="672" r="5"/>
</g>
<text class="b" font-size="8.5" fill="#333" x="680" y="641" textLength="103" lengthAdjust="spacingAndGlyphs">Weak depletion zones</text>
<text class="b" font-size="8.5" fill="#333" x="680" y="655">Moderate Zn<tspan font-size="5.5" dy="-3.5">2+</tspan><tspan dy="3.5"> reduction</tspan></text>
<rect x="686" y="705" width="207" height="28" fill="#fff" stroke="#555" stroke-width="1.2"/>
<line x1="687" y1="733.5" x2="893" y2="733.5" stroke="#888" stroke-width="2"/>
<g font-size="11" fill="#111" font-weight="bold">
 <text x="731" y="689">e<tspan font-size="7" dy="-4">-</tspan></text>
 <text x="799" y="686">e<tspan font-size="7" dy="-4">-</tspan></text>
 <text x="849" y="688">e<tspan font-size="7" dy="-4">-</tspan></text>
 <text x="696" y="717">e<tspan font-size="7" dy="-4">-</tspan></text>
 <text x="741" y="717">e<tspan font-size="7" dy="-4">-</tspan></text>
 <text x="773" y="717">e<tspan font-size="7" dy="-4">-</tspan></text>
 <text x="801" y="717">e<tspan font-size="7" dy="-4">-</tspan></text>
 <text x="838" y="717">e<tspan font-size="7" dy="-4">-</tspan></text>
 <text x="881" y="718">e<tspan font-size="7" dy="-4">-</tspan></text>
</g>
<text class="b" font-size="10.5" fill="#222"><tspan x="718" y="747">✓</tspan><tspan x="718" y="761">✓</tspan><tspan x="718" y="774">✓</tspan></text>
<text class="b" font-size="10.5" fill="#222" x="731" y="747" textLength="151" lengthAdjust="spacingAndGlyphs">Balanced interfacial kinetics</text>
<text class="b" font-size="10.5" fill="#222" x="731" y="761" textLength="152" lengthAdjust="spacingAndGlyphs">Suppressed dendrite growth</text>
<text class="b" font-size="10.5" fill="#222" x="731" y="774" textLength="128" lengthAdjust="spacingAndGlyphs">Stable operation at HCD</text>
</svg>
</body></html>
